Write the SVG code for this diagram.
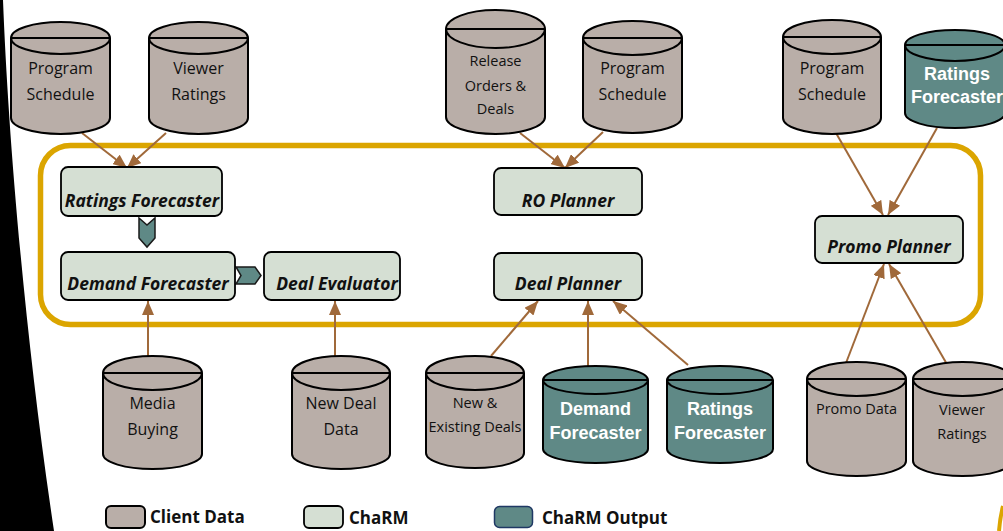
<svg xmlns="http://www.w3.org/2000/svg" width="1003" height="531" viewBox="0 0 1003 531">
  <defs>
    <style>
      .client { fill: #B9AEA8; stroke: #000; stroke-width: 2; }
      .output { fill: #5F8986; stroke: #000; stroke-width: 2; }
      .rim { fill: none; stroke: #000; stroke-width: 2; }
      .box { fill: #D5DFD3; stroke: #000; stroke-width: 1.8; }
      .chev { fill: #5F8986; stroke: #1a1a1a; stroke-width: 1.5; stroke-linejoin: miter; }
      .frame { fill: none; stroke: #DBA500; stroke-width: 5.5; }
      .flow { fill: none; stroke: #A0693A; stroke-width: 2; marker-end: url(#head); }
      .t { font-family: "Open Sans", "Noto Sans", sans-serif; font-size: 16px; fill: #111; text-anchor: middle; }
      .ts { font-size: 14.5px; }
      .tw { font-family: "Liberation Sans", Arial, sans-serif; font-weight: bold; font-size: 18px; fill: #fff; text-anchor: middle; }
      .tb { font-family: "Open Sans", "Noto Sans", sans-serif; font-weight: bold; font-style: italic; font-size: 17.5px; fill: #111; text-anchor: middle; }
      .leg { font-family: "Open Sans", "Noto Sans", sans-serif; font-weight: bold; font-size: 17px; fill: #111; }
    </style>
    <marker id="head" viewBox="0 0 14 12" refX="14" refY="6" markerWidth="14" markerHeight="12" markerUnits="userSpaceOnUse" orient="auto">
      <path d="M0,0 L14,6 L0,12 Z" fill="#A0693A"/>
    </marker>
  </defs>

  <rect width="1003" height="531" fill="#fff"/>

  <!-- dark slide edge on the left -->
  <path d="M0,0 L3,0 C8,130 24,330 54,531 L0,531 Z" fill="#000"/>

  <!-- ChaRM boundary -->
  <rect class="frame" x="40.5" y="145.5" width="940" height="179" rx="30" ry="30"/>
  <path d="M1003,506 Q1000,518 999,531" fill="none" stroke="#DBA500" stroke-width="4"/>

  <!-- connectors -->
  <g id="connectors">
    <line class="flow" x1="82" y1="133" x2="127" y2="168"/>
    <line class="flow" x1="166" y1="133" x2="127" y2="168"/>
    <line class="flow" x1="520" y1="133" x2="565" y2="168"/>
    <line class="flow" x1="603" y1="132" x2="565" y2="168"/>
    <line class="flow" x1="836" y1="133" x2="883" y2="215"/>
    <line class="flow" x1="937" y1="128" x2="888" y2="215"/>
    <line class="flow" x1="846" y1="363" x2="884" y2="264"/>
    <line class="flow" x1="948" y1="366" x2="889" y2="264"/>
    <line class="flow" x1="148" y1="356" x2="148" y2="301"/>
    <line class="flow" x1="335" y1="356" x2="335" y2="301"/>
    <line class="flow" x1="491" y1="356" x2="538" y2="301"/>
    <line class="flow" x1="588" y1="366" x2="588" y2="301"/>
    <line class="flow" x1="688" y1="365" x2="613" y2="301"/>
    <!-- chevrons between forecasters -->
    <path class="chev" d="M139,218 L147,225 L155,218 L155,238 L147,247 L139,238 Z"/>
    <path class="chev" d="M236,267 L255,267 L261,275.5 L255,284 L236,284 L241,275.5 Z"/>
  </g>

  <!-- top row data stores -->
  <g id="program-schedule-1">
    <path class="client" d="M11,38 V118 A49.5,16 0 0 0 110,118 V38 A49.5,16 0 0 0 11,38 Z"/>
    <path class="rim" d="M11,38 A49.5,16 0 0 0 110,38 M11,38 H110"/>
    <text class="t" x="60.5" y="74">Program</text>
    <text class="t" x="60.5" y="100">Schedule</text>
  </g>
  <g id="viewer-ratings-1">
    <path class="client" d="M149,38 V118 A49.5,16 0 0 0 248,118 V38 A49.5,16 0 0 0 149,38 Z"/>
    <path class="rim" d="M149,38 A49.5,16 0 0 0 248,38 M149,38 H248"/>
    <text class="t" x="198.5" y="74">Viewer</text>
    <text class="t" x="198.5" y="100">Ratings</text>
  </g>
  <g id="release-orders">
    <path class="client" d="M446,29 V117 A49.5,17 0 0 0 545,117 V29 A49.5,19 0 0 0 446,29 Z"/>
    <path class="rim" d="M446,29 A49.5,19 0 0 0 545,29 M446,29 H545"/>
    <text class="t ts" x="495.5" y="66">Release</text>
    <text class="t ts" x="495.5" y="91">Orders &amp;</text>
    <text class="t ts" x="495.5" y="114">Deals</text>
  </g>
  <g id="program-schedule-2">
    <path class="client" d="M583,38 V117 A49.5,16 0 0 0 682,117 V38 A49.5,17 0 0 0 583,38 Z"/>
    <path class="rim" d="M583,38 A49.5,17 0 0 0 682,38 M583,38 H682"/>
    <text class="t" x="632.5" y="74">Program</text>
    <text class="t" x="632.5" y="100">Schedule</text>
  </g>
  <g id="program-schedule-3">
    <path class="client" d="M783,37 V118 A49,16 0 0 0 881,118 V37 A49,17 0 0 0 783,37 Z"/>
    <path class="rim" d="M783,37 A49,17 0 0 0 881,37 M783,37 H881"/>
    <text class="t" x="832" y="74">Program</text>
    <text class="t" x="832" y="100">Schedule</text>
  </g>
  <g id="ratings-forecaster-out-1">
    <path class="output" d="M905,45 V113 A50,15 0 0 0 1005,113 V45 A50,15 0 0 0 905,45 Z"/>
    <path class="rim" d="M905,45 A50,16 0 0 0 1005,45 M905,45 H1005"/>
    <text class="tw" x="957" y="80">Ratings</text>
    <text class="tw" x="957" y="103">Forecaster</text>
  </g>

  <!-- ChaRM modules -->
  <g id="ratings-forecaster">
    <rect class="box" x="61" y="167" width="161" height="49" rx="7"/>
    <text class="tb" x="142" y="207">Ratings Forecaster</text>
  </g>
  <g id="demand-forecaster">
    <rect class="box" x="61" y="252" width="174" height="48" rx="7"/>
    <text class="tb" x="148" y="290">Demand Forecaster</text>
  </g>
  <g id="deal-evaluator">
    <rect class="box" x="264" y="252" width="136" height="48" rx="7"/>
    <text class="tb" x="337" y="290">Deal Evaluator</text>
  </g>
  <g id="ro-planner">
    <rect class="box" x="494" y="168" width="148" height="47" rx="7"/>
    <text class="tb" x="568" y="207">RO Planner</text>
  </g>
  <g id="deal-planner">
    <rect class="box" x="494" y="253" width="148" height="47" rx="7"/>
    <text class="tb" x="568" y="290">Deal Planner</text>
  </g>
  <g id="promo-planner">
    <rect class="box" x="815" y="216" width="148" height="47" rx="7"/>
    <text class="tb" x="889" y="253">Promo Planner</text>
  </g>

  <!-- bottom row data stores -->
  <g id="media-buying">
    <path class="client" d="M103,373 V454 A49.5,15 0 0 0 202,454 V373 A49.5,17 0 0 0 103,373 Z"/>
    <path class="rim" d="M103,373 A49.5,17 0 0 0 202,373 M103,373 H202"/>
    <text class="t" x="152.5" y="409">Media</text>
    <text class="t" x="152.5" y="435">Buying</text>
  </g>
  <g id="new-deal-data">
    <path class="client" d="M292,373 V454 A49,15 0 0 0 390,454 V373 A49,17 0 0 0 292,373 Z"/>
    <path class="rim" d="M292,373 A49,17 0 0 0 390,373 M292,373 H390"/>
    <text class="t" x="341" y="409">New Deal</text>
    <text class="t" x="341" y="435">Data</text>
  </g>
  <g id="new-existing-deals">
    <path class="client" d="M426,373 V453 A49,15 0 0 0 524,453 V373 A49,17 0 0 0 426,373 Z"/>
    <path class="rim" d="M426,373 A49,17 0 0 0 524,373 M426,373 H524"/>
    <text class="t ts" x="475" y="408">New &amp;</text>
    <text class="t ts" x="475" y="432">Existing Deals</text>
  </g>
  <g id="demand-forecaster-out">
    <path class="output" d="M543,380 V449 A52.5,14 0 0 0 648,449 V380 A52.5,14 0 0 0 543,380 Z"/>
    <path class="rim" d="M543,380 A52.5,14 0 0 0 648,380 M543,380 H648"/>
    <text class="tw" x="595.5" y="415">Demand</text>
    <text class="tw" x="595.5" y="439">Forecaster</text>
  </g>
  <g id="ratings-forecaster-out-2">
    <path class="output" d="M667,380 V449 A53,14 0 0 0 773,449 V380 A53,14 0 0 0 667,380 Z"/>
    <path class="rim" d="M667,380 A53,14 0 0 0 773,380 M667,380 H773"/>
    <text class="tw" x="720" y="415">Ratings</text>
    <text class="tw" x="720" y="439">Forecaster</text>
  </g>
  <g id="promo-data">
    <path class="client" d="M807,379 V461 A49.5,15 0 0 0 906,461 V379 A49.5,17 0 0 0 807,379 Z"/>
    <path class="rim" d="M807,379 A49.5,17 0 0 0 906,379 M807,379 H906"/>
    <text class="t ts" x="856.5" y="414">Promo Data</text>
  </g>
  <g id="viewer-ratings-2">
    <path class="client" d="M913,379 V461 A49.5,15 0 0 0 1012,461 V379 A49.5,17 0 0 0 913,379 Z"/>
    <path class="rim" d="M913,379 A49.5,17 0 0 0 1012,379 M913,379 H1012"/>
    <text class="t ts" x="962" y="415">Viewer</text>
    <text class="t ts" x="962" y="439">Ratings</text>
  </g>

  <!-- legend -->
  <g id="legend">
    <rect class="client" x="106" y="506" width="39" height="22" rx="5" stroke-width="1.8"/>
    <text class="leg" x="150" y="523">Client Data</text>
    <rect class="box" x="304" y="506" width="39" height="22" rx="5"/>
    <text class="leg" x="349" y="524">ChaRM</text>
    <rect x="494.5" y="506.5" width="38" height="21" rx="5" fill="#5F8986" stroke="#1F3864" stroke-width="1.5"/>
    <text class="leg" x="542" y="524">ChaRM Output</text>
  </g>
</svg>
